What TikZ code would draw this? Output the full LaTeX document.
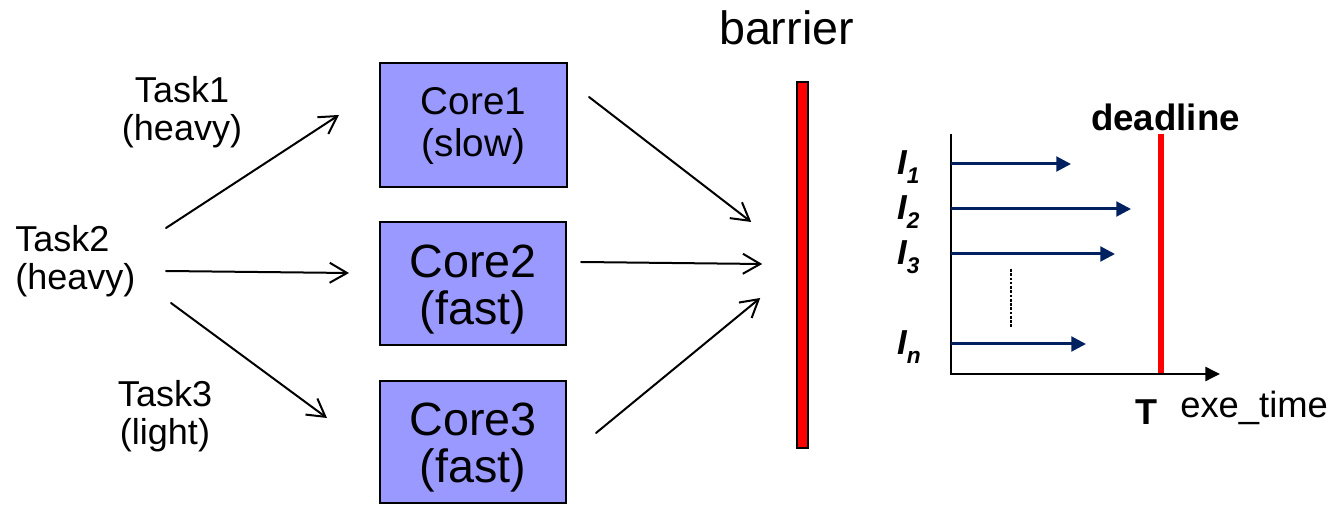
\documentclass[tikz,border=0pt]{standalone}
\usepackage{fontspec}
\setmainfont{Liberation Sans}
\usetikzlibrary{arrows.meta}
\definecolor{corefill}{HTML}{9999FF}
\definecolor{jobnavy}{HTML}{002060}
\definecolor{barred}{HTML}{FF0000}
\newcommand{\fsz}[2]{\fontsize{#1}{#2}\selectfont}
% letter with a lowered, smaller index
\newcommand{\isub}[2]{#1\raisebox{-6.75pt}{\fontsize{17}{17}\selectfont #2}}

\begin{document}
\begin{tikzpicture}[x=0.75pt,y=-0.75pt,
  tasklbl/.style={inner sep=0pt, font={\fsz{27}{28.5}}},
  corebox/.style={draw=black, line width=1.5pt, fill=corefill, inner sep=0pt},
  coresmall/.style={align=center, inner sep=0pt, font={\fsz{29}{31.5}}},
  corebig/.style={align=center, inner sep=0pt, font={\fsz{35}{35}}},
  flow/.style={draw=black, line width=1.5pt, line cap=round,
    -{Straight Barb[length=13pt,width=15pt]}},
  axisline/.style={draw=black, line width=1.8pt,
    -{Triangle[length=11pt,width=10.5pt]}},
  job/.style={draw=jobnavy, line width=2.25pt,
    -{Triangle[length=11pt,width=11pt]}},
  ilabel/.style={inner sep=0pt, anchor=base west, font={\fsz{26}{26}\bfseries\itshape}},
]
\path[use as bounding box] (0,0) rectangle (1330,505);

% tasks
\node[tasklbl, align=center] (task1) at (182,112) {Task1\\(heavy)};
\node[tasklbl, align=left, anchor=west] (task2) at (15,261) {Task2\\(heavy)};
\node[tasklbl, align=center] (task3) at (165,416) {Task3\\(light)};

% cores
\node[corebox, minimum width=140.25pt, minimum height=93pt,
  label={[coresmall, yshift=-0.75pt]center:{Core1\\(slow)}}] (c1) at (473.5,125) {};
\node[corebox, minimum width=139.5pt, minimum height=92.25pt,
  label={[corebig, yshift=-4.35pt]center:{Core2\\(fast)}}] (c2) at (473,283.5) {};
\node[corebox, minimum width=139.5pt, minimum height=91.5pt,
  label={[corebig, yshift=-4.35pt]center:{Core3\\(fast)}}] (c3) at (473,442) {};

% barrier
\node[draw=black, line width=1.2pt, fill=barred, inner sep=0pt,
  minimum width=8.25pt, minimum height=274.5pt] (bar) at (802.5,265) {};
\node[inner sep=0pt, anchor=base, font={\fsz{35}{35}}] (barlbl) at (786.5,45) {barrier};

% task -> core
\draw[flow] ([shift={(151,-33)}]task2.west) -- ([shift={(-40,-10)}]c1.west);
\draw[flow] ([shift={(151,10)}]task2.west) -- ([shift={(-30,-10.5)}]c2.west);
\draw[flow] ([shift={(156,42)}]task2.west) -- ([shift={(-52,-24)}]c3.west);

% core -> barrier
\draw[flow] ([shift={(21,-28)}]c1.east) -- ([shift={(-45,-43)}]bar.west);
\draw[flow] ([shift={(14,-21.5)}]c2.east) -- ([shift={(-34,-1)}]bar.west);
\draw[flow] ([shift={(29,-9)}]c3.east) -- ([shift={(-36,33)}]bar.west);

% execution time chart
\coordinate (O) at (951,374);
\coordinate (ytop) at (951,134);
\coordinate (xend) at (1220,374);
\coordinate (dtop) at (1161,134);
\coordinate (dbot) at (1161,374);

\draw[barred, line width=4.5pt] (dtop) -- (dbot);
\draw[axisline] (ytop) -- (O) -- (xend);

\draw[job] (951,164) -- (1071,164);
\draw[job] (951,209) -- (1131,209);
\draw[job] (951,254) -- (1115,254);
\draw[job] (951,344) -- (1086,344);
\draw[black, line width=2pt, dash pattern=on 2pt off 1.2pt] (1011,269) -- (1011,328);

\node[ilabel] (i1) at (897,175) {\isub{I}{1}};
\node[ilabel] (i2) at (897,220) {\isub{I}{2}};
\node[ilabel] (i3) at (897,265) {\isub{I}{3}};
\node[ilabel] (in) at (897,355) {\isub{I}{n}};

\node[inner sep=0pt, anchor=base, font={\fsz{27.5}{27.5}\bfseries}] (dl) at (1165.5,131) {deadline};
\node[inner sep=0pt, anchor=base, font={\fsz{27}{27}\bfseries}] (tT) at (1146,425) {T};
\node[inner sep=0pt, anchor=base west, font={\fsz{27.3}{27.3}}] (xl) at (1180,417) {exe\_time};
\end{tikzpicture}
\end{document}
